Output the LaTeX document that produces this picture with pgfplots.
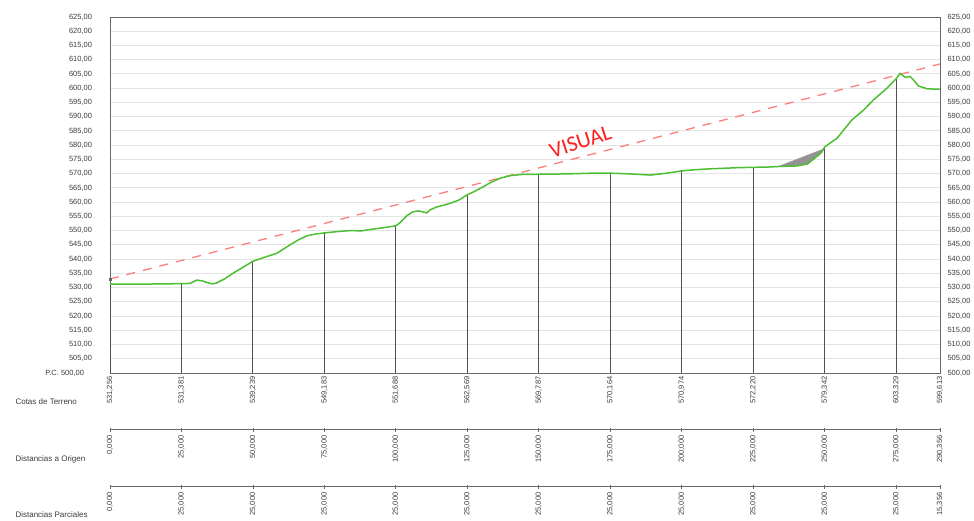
\documentclass[border=0pt]{standalone}
\usepackage{fontspec}
\setmainfont{Liberation Sans}
\newfontfamily\visfont{Carlito}
\usepackage{pgfplots}
\pgfplotsset{compat=1.18}

\definecolor{terrain}{RGB}{76,190,50}
\definecolor{visual}{RGB}{255,125,125}
\definecolor{visualtxt}{RGB}{255,30,30}
\definecolor{gridc}{RGB}{228,228,228}
\definecolor{framec}{RGB}{105,105,105}
\definecolor{combc}{RGB}{80,80,80}
\definecolor{labc}{RGB}{60,60,60}

\pgfplotstableread{
st z
0 531.256
5 531.2
10 531.2
15 531.25
20 531.3
25 531.381
28 531.45
30.3 532.6
32 532.4
35.6 531.3
37 531.5
40 533.0
43 535.0
46 536.8
50 539.239
54 540.6
58.3 542.0
63 545.0
66 546.8
69 548.2
72 548.8
75 549.183
80 549.7
84 550.0
88 549.9
91 550.4
95 550.9
100 551.688
101.5 552.8
103.8 555.2
106 556.6
108 556.9
110.8 556.2
112 557.3
114.3 558.3
117 559.0
119 559.6
122 560.7
125 562.569
128 564.0
130.6 565.4
133 566.8
136.5 568.4
140 569.3
144 569.7
150 569.787
160 569.9
170 570.2
175 570.164
182 569.9
189 569.5
195 570.2
200 570.974
205 571.4
210 571.7
215 571.9
220 572.1
225 572.220
230 572.3
233.8 572.5
240.3 572.7
244 573.4
246 575.0
248 576.6
249 577.6
250 579.342
252 580.8
254.3 582.4
256 584.5
259.5 588.8
263.6 592.3
267.1 595.9
271.8 600.0
275 603.329
276.4 605.2
278.2 603.8
279.9 604.1
281 603.0
282.8 600.8
285.8 599.8
290.356 599.613
}\terrain

\pgfplotstableread{
st z
0 531.256
25 531.381
50 539.239
75 549.183
100 551.688
125 562.569
150 569.787
175 570.164
200 570.974
225 572.220
250 579.342
275 603.329
290.356 599.613
}\stations

\begin{document}
\begin{tikzpicture}[x=1pt,y=1pt]
\path[use as bounding box] (0,0) rectangle (974,521);

% right-hand labels
\begin{axis}[
  at={(110pt,148pt)}, anchor=south west,
  scale only axis, width=830pt, height=356pt,
  xmin=0, xmax=1, ymin=500, ymax=625,
  axis x line=none, axis y line*=right,
  axis line style={framec, line width=0.9pt, -},
  ytick={500,505,510,515,520,525,530,535,540,545,550,555,560,565,570,575,580,585,590,595,600,605,610,615,620,625},
  yticklabels={{500,00},{505,00},{510,00},{515,00},{520,00},{525,00},{530,00},{535,00},{540,00},{545,00},{550,00},{555,00},{560,00},{565,00},{570,00},{575,00},{580,00},{585,00},{590,00},{595,00},{600,00},{605,00},{610,00},{615,00},{620,00},{625,00}},
  major tick length=0pt,
  yticklabel style={anchor=west, xshift=4pt, text=labc, font=\fontsize{7.5}{9}\selectfont},
]
\end{axis}

% main axis
\begin{axis}[
  at={(110pt,148pt)}, anchor=south west,
  scale only axis, width=830pt, height=356pt,
  xmin=0, xmax=290.356, ymin=500, ymax=625,
  clip mode=individual,
  axis line style={framec, line width=0.9pt},
  ytick={500,505,510,515,520,525,530,535,540,545,550,555,560,565,570,575,580,585,590,595,600,605,610,615,620,625},
  yticklabels={{P.C. 500,00\hspace*{8pt}},{505,00},{510,00},{515,00},{520,00},{525,00},{530,00},{535,00},{540,00},{545,00},{550,00},{555,00},{560,00},{565,00},{570,00},{575,00},{580,00},{585,00},{590,00},{595,00},{600,00},{605,00},{610,00},{615,00},{620,00},{625,00}},
  yticklabel pos=left,
  yticklabel style={anchor=east, xshift=-14.5pt, text=labc, font=\fontsize{7.5}{9}\selectfont},
  ymajorgrids, grid style={gridc, line width=0.9pt},
  major tick length=0pt,
  xtick={0,25,50,75,100,125,150,175,200,225,250,275,290.356},
  xticklabels={{531,256},{531,381},{539,239},{549,183},{551,688},{562,569},{569,787},{570,164},{570,974},{572,220},{579,342},{603,329},{599,613}},
  xticklabel pos=bottom,
  xticklabel style={rotate=90, anchor=east, text=labc, font=\fontsize{7.5}{9}\selectfont},
]
\addplot[ycomb, combc, line width=1pt, no marks] table[x=st, y=z] {\stations};
\addplot[visual, line width=1.3pt, dash pattern=on 9pt off 8pt] coordinates {(0,533.0) (290.356,608.5)};
\addplot[fill=gray!85, draw=none] coordinates {(233.8,572.6) (250,578.9) (249,577.6) (248,576.6) (246,575.0) (244,573.4) (240.3,572.7)} -- cycle;
\addplot[terrain, line width=1.5pt] table[x=st, y=z] {\terrain};
\addplot[only marks, mark=square*, mark size=1.3pt, black!60] coordinates {(0,533.0)};
\node[rotate=18, text=visualtxt, font=\visfont\fontsize{22}{24}\selectfont] at (axis cs:164.6,581.3) {VISUAL};
\end{axis}

% Distancias a Origen
\begin{axis}[
  at={(110pt,91pt)}, anchor=south west,
  scale only axis, width=830pt, height=1pt,
  xmin=0, xmax=290.356, ymin=0, ymax=1,
  axis x line=bottom, axis y line=none,
  axis line style={framec, line width=1pt, -},
  xtick={0,25,50,75,100,125,150,175,200,225,250,275,290.356},
  xticklabels={{0,000},{25,000},{50,000},{75,000},{100,000},{125,000},{150,000},{175,000},{200,000},{225,000},{250,000},{275,000},{290,356}},
  major tick length=4pt, tick align=center,
  tick style={framec, line width=0.8pt},
  xticklabel style={rotate=90, anchor=east, text=labc, font=\fontsize{7.5}{9}\selectfont},
]
\end{axis}

% Distancias Parciales
\begin{axis}[
  at={(110pt,34pt)}, anchor=south west,
  scale only axis, width=830pt, height=1pt,
  xmin=0, xmax=290.356, ymin=0, ymax=1,
  axis x line=bottom, axis y line=none,
  axis line style={framec, line width=1pt, -},
  xtick={0,25,50,75,100,125,150,175,200,225,250,275,290.356},
  xticklabels={{0,000},{25,000},{25,000},{25,000},{25,000},{25,000},{25,000},{25,000},{25,000},{25,000},{25,000},{25,000},{15,356}},
  major tick length=4pt, tick align=center,
  tick style={framec, line width=0.8pt},
  xticklabel style={rotate=90, anchor=east, text=labc, font=\fontsize{7.5}{9}\selectfont},
]
\end{axis}

\node[anchor=west, text=labc, font=\fontsize{8}{9}\selectfont] at (12,119) {Cotas de Terreno};
\node[anchor=west, text=labc, font=\fontsize{8}{9}\selectfont] at (12,62) {Distancias a Origen};
\node[anchor=west, text=labc, font=\fontsize{8}{9}\selectfont] at (12,6) {Distancias Parciales};
\end{tikzpicture}
\end{document}
